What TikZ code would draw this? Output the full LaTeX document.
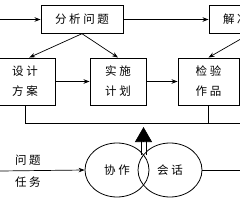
\documentclass[tikz,border=0pt]{standalone}
\usepackage{fontspec}
\newfontfamily\cjk[LetterSpace=22]{Noto Sans CJK SC}
\usetikzlibrary{arrows.meta,shapes.geometric}

\begin{document}
\begin{tikzpicture}[x=1pt,y=-1pt,>={Stealth[length=6pt,width=4.5pt]},line width=0.7pt,
  every node/.style={font=\cjk\fontsize{11.5}{20}\selectfont},
  box/.style={draw,line width=0.9pt,inner sep=0pt,align=center},
  bubble/.style={draw,ellipse,line width=0.8pt,minimum width=64pt,minimum height=54pt,inner sep=0pt}]
  \useasboundingbox (0,0) rectangle (240,200);
  \clip (0,0) rectangle (240,200);
  % boxes
  \node[box,minimum width=82pt,minimum height=27.5pt] (fx) at (82,19.5) {分析问题};
  \node[box,minimum width=82pt,minimum height=27.5pt] (jj) at (250,19.5) {解决问题};
  \node[box,minimum width=60pt,minimum height=47pt] (sj) at (25,81.5) {设计\\方案};
  \node[box,minimum width=56pt,minimum height=47pt] (ss) at (118,81.5) {实施\\计划};
  \node[box,minimum width=61pt,minimum height=47pt] (jy) at (208.5,81.5) {检验\\作品};
  % bubbles
  \node[bubble] (xz) at (117,170) {协作};
  \node[bubble] (hh) at (170,170) {会话};
  \coordinate (lw) at (0,19.5);
  \coordinate (rw) at (0,171);
  \coordinate (fb) at (240,123);
  \coordinate (hr) at (240,170);
  \coordinate (jc) at (143.5,155);
  \coordinate (hb) at (143.5,140);
  \coordinate (up) at (143.5,127);
  \draw[->] (lw) -- (fx.west);
  \draw[->] (fx.east) -- (jj.west);
  \draw[->] (fx.south) -- (sj.80);
  \draw[->] (fx.south) -- (ss.north);
  \draw[->] (jj.south) -- (jy.north);
  \draw[->] (sj.east) -- (ss.west);
  \draw[->] (ss.east) -- (jy.west);
  \draw (sj.south) |- (fb);
  \draw (jy.south) -- (jy.south |- fb);
  \draw[->] (rw) -- (xz.west)
    node[pos=0.33,above=2pt] {问题} node[pos=0.33,below=2pt] {任务};
  \draw (hh.east) -- (hr);
  % big arrow
  \draw[line width=0.8pt] ([xshift=-2.6pt]jc) -- ([xshift=-2.6pt]hb);
  \draw[line width=0.8pt] ([xshift=2.6pt]jc) -- ([xshift=2.6pt]hb);
  \draw[-{Triangle[length=15pt,width=17pt]}] (hb) -- (up);
\end{tikzpicture}
\end{document}
